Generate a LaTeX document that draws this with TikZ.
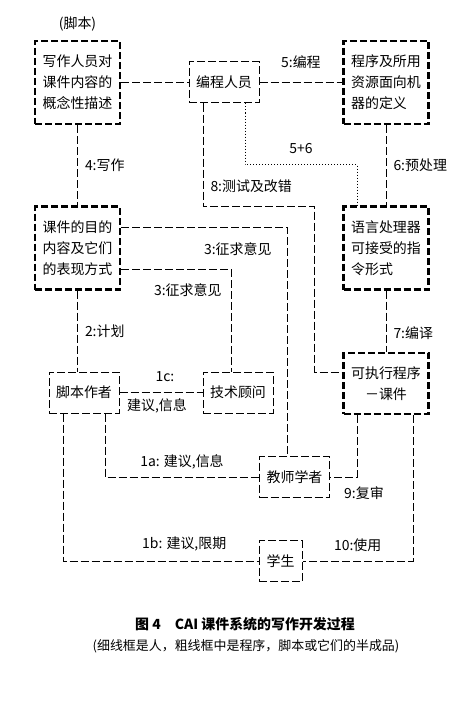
\documentclass[tikz,border=0pt]{standalone}
\usepackage{fontspec}
\setmainfont{Noto Sans CJK SC}
\usetikzlibrary{positioning}

\begin{document}
\begin{tikzpicture}[
    x=1bp, y=-1bp,
    every node/.style={font=\fontsize{14}{21}\selectfont, inner sep=1bp},
    thickbox/.style={
        draw,
        line width=2.4bp,
        dash pattern=on 7bp off 3bp,
        minimum width=85bp,
        minimum height=83bp,
        align=left
    },
    thinbox/.style={
        draw,
        line width=1bp,
        dash pattern=on 8bp off 3bp,
        minimum width=70bp,
        minimum height=41bp,
        align=center
    },
    link/.style={line width=1bp, dash pattern=on 8bp off 3bp},
    dotlink/.style={line width=1bp, dash pattern=on 1bp off 2bp},
    caption/.style={font=\fontsize{13}{16}\selectfont}
]
\fill[white] (0,0) rectangle (467,709);
\useasboundingbox (0,0) rectangle (467,709);

\node[thickbox] (desc) at (77.5,82.5) {写作人员对\\课件内容的\\概念性描述};
\node[thinbox] (coder) at (224,82.5) {编程人员};
\node[thickbox] (machdef) at (386,82.5) {程序及所用\\资源面向机\\器的定义};
\node[thickbox] (goals) at (77.5,248) {课件的目的\\内容及它们\\的表现方式};
\node[thickbox] (langform) at (machdef |- goals) {语言处理器\\可接受的指\\令形式};
\node[thinbox] (scripter) at (84,392.5) {脚本作者};
\node[thinbox] (advisor) at (238,392.5) {技术顾问};
\node[thickbox, minimum height=61bp, align=center] (program) at (386,383.5) {可执行程序\\－课件};
\node[thinbox] (teacher) at (294.5,477) {教师学者};
\node[thinbox, minimum width=43bp] (student) at (280.5,561) {学生};
\node[above=7bp of desc] (scriptnote) {(脚本)};

\draw[link] (desc) -- (coder);
\draw[link] (coder) -- node[above=12bp] (lblcode) {5:编程} (machdef);
\draw[link] (desc) -- node[right=6bp] (lblwrite) {4:写作} (goals);
\draw[link] (machdef) -- node[right=6bp] (lblprep) {6:预处理} (langform);
\draw[dotlink] ([xshift=21bp]coder.south) -- ++(0,61) -| node[pos=0.25, above=9bp] (lblboth) {5+6} ([xshift=-29bp]langform.north);
\draw[link] ([xshift=-21bp]coder.south) -- ++(0,103) node[above right=12bp and 6bp] (lbltest) {8:测试及改错}
    -| ([xshift=-27.5bp,yshift=11.5bp]program.west) -- ([yshift=11.5bp]program.west);
\draw[link] ([yshift=21bp]goals.east) -| node[pos=0.5, below left=14bp and 14bp] (lblask) {3:征求意见} ([xshift=-7.5bp]teacher.north);
\draw[link] ([yshift=-21bp]goals.east) -| node[pos=0.5, below left=13bp and 8bp] (lbladvise) {3:征求意见} ([xshift=-7bp]advisor.north);
\draw[link] (goals.south) -- node[right=6bp] (lblplan) {2:计划} (goals.south |- scripter.north);
\draw[link] (langform) -- node[right=6bp, pos=0.7] (lblcompile) {7:编译} (program);
\draw[link] (scripter) -- node[above=9bp, xshift=4bp] (lblone) {1c:} node[below=5bp, xshift=-4bp] (lblinfo) {建议,信息} (advisor);
\draw[link] ([xshift=21bp]scripter.south) |- node[pos=0.75, above=6bp] (lblsuggest) {1a: 建议,信息} (teacher.west);
\draw[link] ([xshift=-21bp]scripter.south) |- node[pos=0.81, above=8bp] (lbldeadline) {1b: 建议,限期} (student.west);
\draw[link] ([xshift=-29bp]program.south) |- node[pos=0.5, below=8bp, xshift=7bp] (lblreview) {9:复审} (teacher.east);
\draw[link] ([xshift=27bp]program.south) |- node[pos=0.75, above=8bp] (lbluse) {10:使用} (student.east);

\node[font=\bfseries\fontsize{14}{16}\selectfont] (title) at (245,624) {图 4\quad CAI 课件系统的写作开发过程};
\node[caption] (note) at (246,646) {(细线框是人，粗线框中是程序，脚本或它们的半成品)};
\end{tikzpicture}
\end{document}
